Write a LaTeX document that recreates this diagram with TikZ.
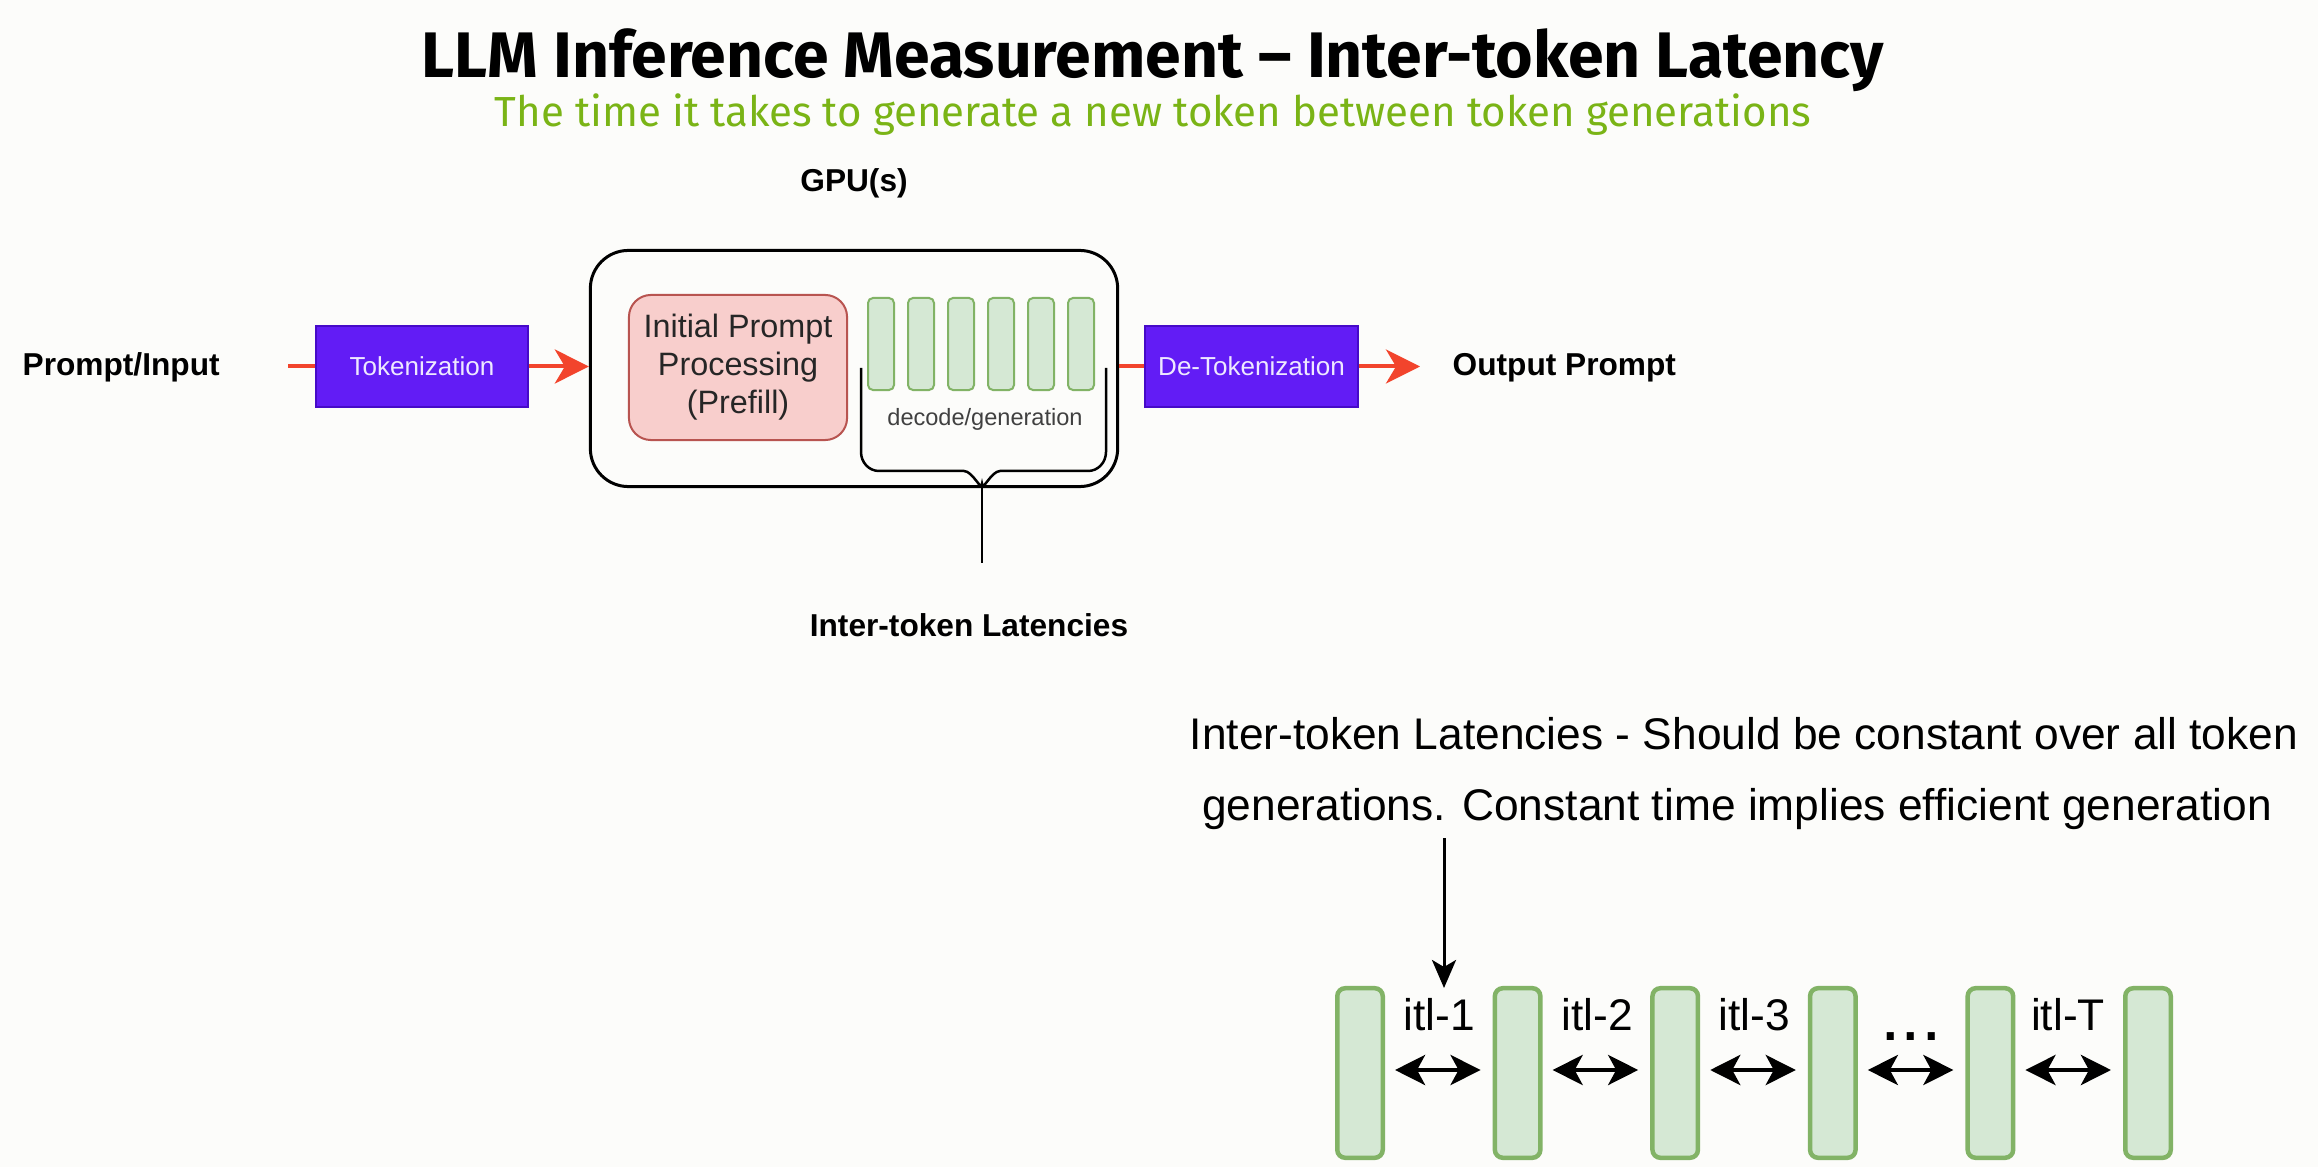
\documentclass[tikz,border=0pt]{standalone}
\usepackage{fontspec}
\setmainfont{Liberation Sans}
\newfontfamily\titlefont{Fira Sans}
\usetikzlibrary{arrows.meta}
\definecolor{bgc}{RGB}{252,252,250}
\definecolor{nvgreen}{RGB}{122,180,22}
\definecolor{tokfill}{RGB}{98,28,245}
\definecolor{tokdraw}{RGB}{70,10,200}
\definecolor{toktext}{RGB}{238,232,255}
\definecolor{arrred}{RGB}{242,68,44}
\definecolor{prefill}{RGB}{248,206,204}
\definecolor{prefdraw}{RGB}{184,84,80}
\definecolor{barfill}{RGB}{213,232,212}
\definecolor{bardraw}{RGB}{130,179,102}
\tikzset{
  boldlbl/.style={font=\bfseries\fontsize{9pt}{11pt}\selectfont, inner sep=0pt},
  tokbox/.style={draw=tokdraw, line width=0.6pt, fill=tokfill, text=toktext, inner sep=0pt,
    minimum width=2.12cm, minimum height=0.81cm, font=\fontsize{7.4pt}{9pt}\selectfont},
  redline/.style={draw=arrred, line width=0.04cm},
  redarrow/.style={redline, -{Stealth[length=0.34cm,width=0.34cm,inset=0.1cm]}},
  gpubox/.style={draw=black, line width=0.03cm, rounded corners=0.38cm, inner sep=0pt,
    minimum width=5.27cm, minimum height=2.36cm},
  prefbox/.style={draw=prefdraw, line width=0.02cm, fill=prefill, rounded corners=0.22cm,
    inner sep=0pt, minimum width=2.18cm, minimum height=1.45cm, align=center,
    text=black!85, font=\fontsize{9.2pt}{10.8pt}\selectfont},
  smallbar/.style={draw=bardraw, line width=0.02cm, fill=barfill, rounded corners=0.05cm,
    inner sep=0pt, minimum width=0.26cm, minimum height=0.92cm},
  bigbar/.style={draw=bardraw, line width=0.045cm, fill=barfill, rounded corners=0.08cm,
    inner sep=0pt, minimum width=0.455cm, minimum height=1.695cm},
  itllbl/.style={font=\fontsize{12.6pt}{14pt}\selectfont, inner sep=0pt, anchor=base},
  dblarrow/.style={draw=black, line width=0.045cm,
    {Stealth[length=0.3cm,width=0.3cm,inset=0.08cm]}-{Stealth[length=0.3cm,width=0.3cm,inset=0.08cm]}},
  downarrow/.style={draw=black, line width=0.03cm, -{Stealth[length=0.28cm,width=0.24cm,inset=0.07cm]}},
}
\begin{document}
\begin{tikzpicture}[x=0.01cm,y=-0.01cm]
\fill[bgc] (0,0) rectangle (2318,1167);
\useasboundingbox (0,0) rectangle (2318,1167);

% Title
\node[anchor=base, inner sep=0pt, font=\titlefont\bfseries\fontsize{18.3pt}{20pt}\selectfont] (title) at (1153,78)
  {LLM Inference Measurement – Inter-token Latency};
\node[anchor=base, inner sep=0pt, text=nvgreen, font=\titlefont\fontsize{11.95pt}{14pt}\selectfont] (subtitle) at (1153,127)
  {The time it takes to generate a new token between token generations};

% Top flow
\node[boldlbl, anchor=base] (gpulbl) at (854,192) {GPU(s)};
\node[boldlbl, anchor=base west] (pin) at (22,376) {Prompt/Input};
\node[boldlbl, anchor=base west] (pout) at (1452,376) {Output Prompt};

\node[tokbox] (tok) at (422,366.5) {Tokenization};
\node[tokbox, minimum width=2.13cm] (detok) at (1251.5,366.5) {De-Tokenization};

\node[gpubox] (gpu) at (854,368.5) {};
\node[prefbox] (pref) at (738,367.5) {Initial Prompt\\Processing\\(Prefill)};

\foreach \i in {0,...,5} {
  \node[smallbar] (s\i) at (881+40*\i,344) {};
}
\node[inner sep=0pt, text=black!75, font=\fontsize{6.7pt}{8pt}\selectfont] (dec) at (985,419) {decode/generation};

% brace
\coordinate (brL) at (861,368);
\coordinate (brR) at (1106,368);
\coordinate (brC) at (982,484);
\coordinate (brS) at (982,563);
\draw[black, line width=0.025cm] (brL) -- (861,452) to[out=-90,in=180] (879,471) -- (964,471)
  to[out=0,in=-90] (brC) to[out=-90,in=180] (1000,471) -- (1088,471) to[out=0,in=-90] (1106,452) -- (brR);
\draw[black, line width=0.025cm] (brC) -- (brS);
\node[boldlbl, anchor=base] (itlbl) at (969,636) {Inter-token Latencies};

% red arrows
\coordinate (pstart) at (288,366.5);
\coordinate (pend) at (1420,366.5);
\draw[redline] (pstart) -- (tok.west);
\draw[redarrow] (tok.east) -- (tok.east -| gpu.west);
\draw[redline] (detok.west -| gpu.east) -- (detok.west);
\draw[redarrow] (detok.east) -- (pend);

% bottom explanation
\node[itllbl] (exp1) at (1744,749) {Inter-token Latencies - Should be constant over all token};
\node[itllbl] (exp2) at (1737,820) {generations. Constant time implies efficient generation};

\foreach \i in {0,...,5} {
  \node[bigbar] (b\i) at (1360+157.6*\i,1073) {};
}
\node[itllbl] (l1) at (1439,1030) {itl-1};
\node[itllbl] (l2) at (1597,1030) {itl-2};
\node[itllbl] (l3) at (1754,1030) {itl-3};
\node[itllbl, font=\fontsize{21pt}{24pt}\selectfont] (ldots) at (1911,1040) {...};
\node[itllbl] (lT) at (2068,1030) {itl-T};

\foreach \i/\j in {0/1,1/2,2/3,3/4,4/5} {
  \draw[dblarrow] ([shift={(10,-3)}]b\i.east) -- ([shift={(-12,-3)}]b\j.west);
}

\coordinate (dtop) at (1444,838);
\coordinate (dend) at (1444,988);
\draw[downarrow] (dtop) -- (dend);
\end{tikzpicture}
\end{document}
